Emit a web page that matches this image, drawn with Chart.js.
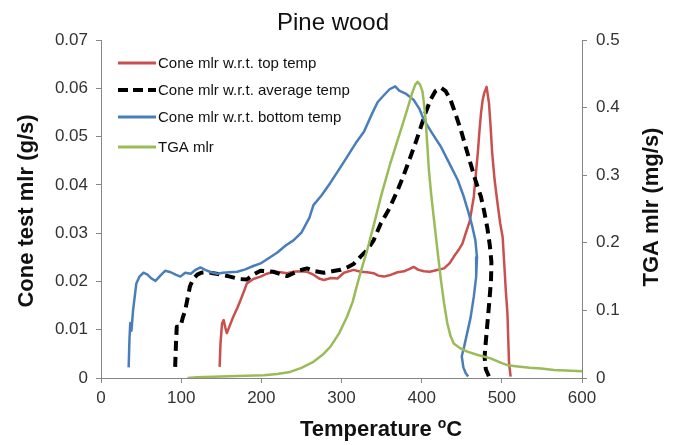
<!DOCTYPE html>
<html lang="en">
<head>
  <meta charset="UTF-8" />
  <title>Pine wood</title>
  <script src="https://cdn.jsdelivr.net/npm/chart.js"></script>
  <style>
    html, body { margin: 0; padding: 0; background: #fff; }
    #wrap { width: 673px; height: 445px; position: relative; }
  </style>
</head>
<body>
  <div id="wrap"><canvas id="grafico"></canvas></div>

  <script>
    // temperatures (oC) and mass loss rates for each curve
    const topTemp = [148, 149, 151, 153, 155, 157, 161, 165, 170, 174, 178, 182, 190, 199, 207, 215, 224, 232, 240, 248, 257, 265, 272, 278, 287, 295, 303, 315, 324, 332, 340, 346, 353, 362, 370, 378, 385, 390, 396, 403, 410, 418, 428, 435, 440, 446, 451, 455, 460, 465, 468, 470, 472, 474, 476, 478, 481, 484, 486, 488, 491, 494.6, 498, 501, 503, 505, 507, 508, 509, 511];
    const topMlr = [0.0023, 0.007, 0.0113, 0.012, 0.0105, 0.0093, 0.011, 0.0127, 0.0145, 0.0161, 0.0178, 0.0196, 0.0205, 0.021, 0.0216, 0.022, 0.0219, 0.0217, 0.022, 0.0221, 0.022, 0.0214, 0.0206, 0.0203, 0.0207, 0.0206, 0.0218, 0.0224, 0.022, 0.0219, 0.0217, 0.0212, 0.021, 0.0214, 0.0219, 0.0221, 0.0226, 0.023, 0.0224, 0.0221, 0.022, 0.0223, 0.0227, 0.0238, 0.0251, 0.0265, 0.0279, 0.03, 0.0325, 0.0375, 0.043, 0.0465, 0.051, 0.0548, 0.0575, 0.059, 0.0603, 0.0569, 0.052, 0.0465, 0.041, 0.0362, 0.032, 0.0292, 0.0237, 0.018, 0.0134, 0.008, 0.003, 0.0003];

    const avgTemp = [92.5, 93.5, 94.5, 99, 102, 105, 108, 111, 115, 120, 125, 132, 140, 150, 161, 172, 182, 190, 199, 207, 215, 224, 232, 240, 248, 257, 267, 278, 288, 299, 307, 315, 324, 332, 340, 349, 360, 370, 378, 386, 393, 399, 405, 411, 417, 424, 430, 436, 442, 449, 455, 461, 467, 474, 478, 482, 485, 487, 486.5, 484.5, 482, 480, 478.5, 480, 484];
    const avgMlr = [0.0023, 0.007, 0.0106, 0.0106, 0.0125, 0.014, 0.0165, 0.019, 0.0205, 0.0214, 0.0218, 0.0219, 0.0217, 0.0214, 0.021, 0.0205, 0.0204, 0.0214, 0.0222, 0.0221, 0.022, 0.0215, 0.0211, 0.0217, 0.0223, 0.0227, 0.0221, 0.0218, 0.0221, 0.0224, 0.0229, 0.0236, 0.0252, 0.0265, 0.0285, 0.032, 0.0352, 0.0389, 0.0422, 0.0458, 0.049, 0.052, 0.055, 0.0576, 0.0594, 0.0601, 0.0594, 0.0576, 0.0548, 0.0513, 0.0478, 0.0444, 0.041, 0.0375, 0.0345, 0.031, 0.0275, 0.024, 0.0203, 0.016, 0.0113, 0.0075, 0.0044, 0.0018, 0.0003];

    const bottomTemp = [34.5, 35.5, 36.5, 38, 40, 44, 48, 53, 58, 63, 68, 74, 80, 87, 93, 99, 105, 112, 118, 124, 130, 137, 145, 152, 160, 170, 180, 190, 200, 210, 220, 230, 240, 250, 260, 265, 275, 286, 297, 307, 318, 328, 338, 345, 352, 360, 367, 372, 380, 390, 397, 403, 413, 424, 435, 445, 452, 458, 463, 467, 469, 468, 465, 461, 457, 453, 450, 452, 455, 458];
    const bottomMlr = [0.0022, 0.008, 0.0114, 0.0098, 0.014, 0.0195, 0.021, 0.0218, 0.0214, 0.0206, 0.0201, 0.0212, 0.0222, 0.0219, 0.0214, 0.021, 0.0218, 0.0216, 0.0224, 0.0229, 0.0224, 0.0219, 0.0216, 0.0218, 0.0219, 0.022, 0.0225, 0.0232, 0.0238, 0.0249, 0.026, 0.0274, 0.0285, 0.0301, 0.0332, 0.0358, 0.0378, 0.0404, 0.0432, 0.0458, 0.0487, 0.051, 0.0547, 0.0571, 0.0584, 0.0598, 0.0604, 0.0595, 0.0589, 0.0576, 0.0558, 0.0534, 0.0507, 0.0479, 0.0443, 0.041, 0.0378, 0.0345, 0.0315, 0.0285, 0.025, 0.021, 0.0168, 0.0125, 0.0095, 0.0065, 0.0045, 0.0022, 0.001, 0.0003];

    const tgaTemp = [108, 120, 140, 170, 203, 220, 236, 250, 265, 276, 286, 297, 307, 314, 320, 326, 332, 340, 350, 361, 370, 378, 384, 388, 392, 395, 398, 401, 403, 405, 407, 409, 412, 415.4, 419.6, 424, 428, 432, 436, 440, 448, 457, 470, 486, 500, 507, 520, 535, 549, 565, 580, 600];
    const tgaMlr = [0, 0.001, 0.002, 0.003, 0.004, 0.006, 0.009, 0.015, 0.024, 0.034, 0.046, 0.066, 0.091, 0.113, 0.14, 0.165, 0.189, 0.225, 0.272, 0.318, 0.352, 0.382, 0.405, 0.421, 0.434, 0.438, 0.434, 0.424, 0.405, 0.382, 0.345, 0.308, 0.27, 0.234, 0.19, 0.145, 0.11, 0.081, 0.062, 0.051, 0.044, 0.039, 0.034, 0.029, 0.022, 0.019, 0.017, 0.015, 0.014, 0.012, 0.011, 0.01];

    const seriesNames = [
      "Cone mlr w.r.t. top temp",
      "Cone mlr w.r.t. average temp",
      "Cone mlr w.r.t. bottom temp",
      "TGA mlr"
    ];
    const xTicks = [0, 100, 200, 300, 400, 500, 600];

    const FONT = "'Liberation Sans', Arial, sans-serif";
    const AXIS = "#868686";
    const RED = "#C9504E";
    const BLUE = "#4A7EBB";
    const GREEN = "#9BBB59";

    const pares = (xs, ys) => xs.map((x, i) => ({ x, y: ys[i] }));

    // titles and the legend box, drawn by hand
    const textos = {
      id: "textos",
      afterDraw(chart) {
        const ctx = chart.ctx;
        ctx.save();
        ctx.fillStyle = "#111";

        ctx.font = `24px ${FONT}`;
        ctx.textAlign = "center";
        ctx.textBaseline = "alphabetic";
        ctx.fillText("Pine wood", 333, 30);

        // x axis title with a raised small "o"
        ctx.font = `bold 22px ${FONT}`;
        ctx.textAlign = "left";
        let x = 300;
        const base = 436;
        ctx.fillText("Temperature ", x, base);
        x += ctx.measureText("Temperature ").width;
        ctx.font = `bold 14px ${FONT}`;
        ctx.fillText("o", x, base - 8);
        x += ctx.measureText("o").width;
        ctx.font = `bold 22px ${FONT}`;
        ctx.fillText("C", x, base);

        // vertical titles, both reading bottom to top
        const vertical = (txt, cx, cy) => {
          ctx.save();
          ctx.translate(cx, cy);
          ctx.rotate(-Math.PI / 2);
          ctx.textAlign = "center";
          ctx.textBaseline = "middle";
          ctx.fillText(txt, 0, 0);
          ctx.restore();
        };
        vertical("Cone test mlr (g/s)", 27, 211);
        vertical("TGA mlr (mg/s)", 652, 207);

        // legend
        const filas = [63, 90, 117, 147];
        const estilos = [
          { color: RED, width: 3, dash: [] },
          { color: "#000", width: 4, dash: [10, 5] },
          { color: BLUE, width: 3, dash: [] },
          { color: GREEN, width: 3, dash: [] }
        ];
        ctx.font = `15px ${FONT}`;
        ctx.textAlign = "left";
        ctx.textBaseline = "middle";
        filas.forEach((y, i) => {
          const e = estilos[i];
          ctx.beginPath();
          ctx.strokeStyle = e.color;
          ctx.lineWidth = e.width;
          ctx.setLineDash(e.dash);
          ctx.moveTo(118, y);
          ctx.lineTo(156, y);
          ctx.stroke();
          ctx.setLineDash([]);
          ctx.fillStyle = "#111";
          ctx.fillText(seriesNames[i], 158, y + 1);
        });
        ctx.restore();
      }
    };

    const eixo = {
      display: true,
      drawOnChartArea: false,
      drawTicks: true,
      tickLength: 5,
      color: AXIS
    };

    new Chart(document.getElementById("grafico"), {
      type: "line",
      data: {
        datasets: [
          { label: seriesNames[0], data: pares(topTemp, topMlr), borderColor: RED, borderWidth: 2.5, yAxisID: "y", order: 4 },
          { label: seriesNames[1], data: pares(avgTemp, avgMlr), borderColor: "#000", borderWidth: 4, borderDash: [10, 6], yAxisID: "y", order: 3 },
          { label: seriesNames[2], data: pares(bottomTemp, bottomMlr), borderColor: BLUE, borderWidth: 2.5, yAxisID: "y", order: 2 },
          { label: seriesNames[3], data: pares(tgaTemp, tgaMlr), borderColor: GREEN, borderWidth: 2.5, yAxisID: "y2", order: 1 }
        ]
      },
      options: {
        responsive: true,
        maintainAspectRatio: false,
        animation: false,
        layout: { padding: { top: 40, left: 0, right: 0, bottom: 0 } },
        elements: {
          point: { radius: 0 },
          line: { tension: 0, fill: false, borderCapStyle: "butt", borderJoinStyle: "round" }
        },
        plugins: {
          legend: { display: false },
          title: { display: false },
          tooltip: { enabled: false }
        },
        scales: {
          x: {
            type: "linear",
            min: 0,
            max: 600,
            afterBuildTicks: s => { s.ticks = xTicks.map(v => ({ value: v })); },
            afterFit: s => { s.height = 67; },
            grid: eixo,
            border: { color: AXIS, width: 1 },
            ticks: { color: "#333", padding: 5, maxRotation: 0, font: { family: FONT, size: 17 } }
          },
          y: {
            position: "left",
            min: 0,
            max: 0.07,
            afterFit: s => { s.width = 101; },
            grid: eixo,
            border: { color: AXIS, width: 1 },
            ticks: {
              stepSize: 0.01,
              color: "#333",
              padding: 8,
              font: { family: FONT, size: 17 },
              callback: v => (v === 0 ? "0" : v.toFixed(2))
            }
          },
          y2: {
            position: "right",
            min: 0,
            max: 0.5,
            afterFit: s => { s.width = 91; },
            grid: eixo,
            border: { color: AXIS, width: 1 },
            ticks: {
              stepSize: 0.1,
              color: "#333",
              padding: 9,
              font: { family: FONT, size: 17 },
              callback: v => (v === 0 ? "0" : v.toFixed(1))
            }
          }
        }
      },
      plugins: [textos]
    });
  </script>
</body>
</html>
